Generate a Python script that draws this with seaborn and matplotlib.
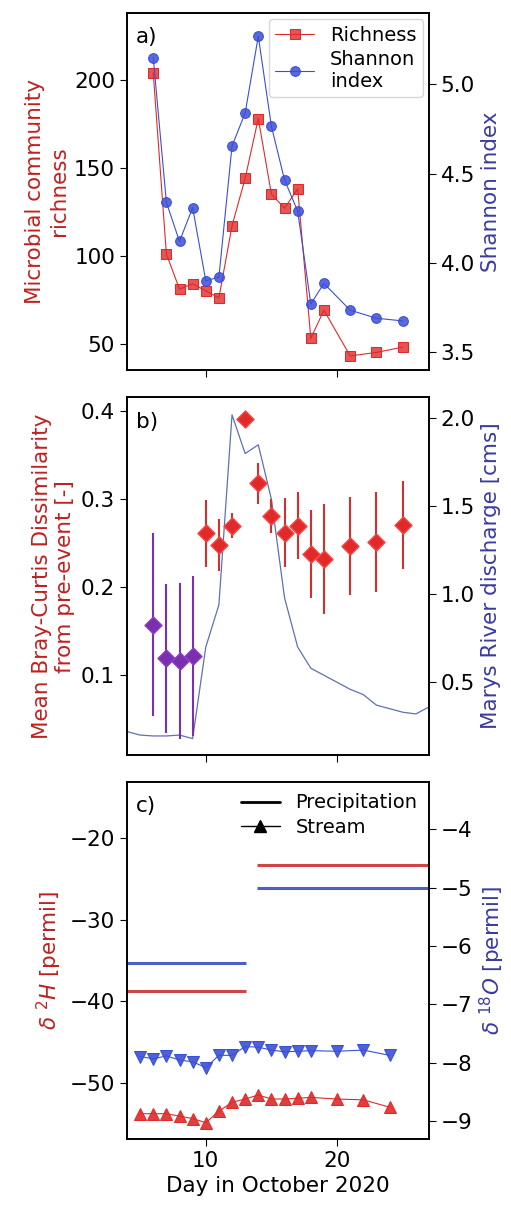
import numpy as np
import pandas as pd
import matplotlib
matplotlib.use("Agg")
import matplotlib.pyplot as plt
import seaborn as sns
from matplotlib.lines import Line2D

sns.set_style("ticks", {"axes.edgecolor": "black", "xtick.color": "black",
                        "ytick.color": "black", "text.color": "black",
                        "axes.labelcolor": "black"})
plt.rcParams['font.family'] = ['DejaVu Sans']

# ---------------- data ----------------
# panel a
seq_days = [6, 7, 8, 9, 10, 11, 12, 13, 14, 15, 16, 17, 18, 19, 21, 23, 25]
richness = [204, 101, 81, 84, 80, 76, 117, 144, 178, 135, 127, 138, 53, 69, 43, 45, 48]
shannon = [5.15, 4.34, 4.12, 4.31, 3.90, 3.92, 4.655, 4.84, 5.27, 4.765, 4.465, 4.29,
           3.77, 3.885, 3.735, 3.69, 3.675]

# panel b
pre_days = [6, 7, 8, 9]
pre_bc = [0.157, 0.119, 0.116, 0.122]
pre_err = [0.104, 0.085, 0.089, 0.091]
post_days = [10, 11, 12, 13, 14, 15, 16, 17, 18, 19, 21, 23, 25]
post_bc = [0.261, 0.248, 0.270, 0.391, 0.318, 0.281, 0.262, 0.270, 0.238, 0.232, 0.247, 0.251, 0.271]
post_err = [0.038, 0.030, 0.014, 0.0, 0.023, 0.019, 0.039, 0.038, 0.050, 0.063, 0.056, 0.057, 0.050]
q_days = list(range(4, 28))
discharge = [0.22, 0.20, 0.195, 0.195, 0.20, 0.18, 0.70, 0.94, 2.02, 1.80, 1.85, 1.54,
             0.98, 0.70, 0.58, 0.54, 0.50, 0.46, 0.43, 0.37, 0.35, 0.33, 0.32, 0.36]

# panel c
iso_days = [5, 6, 7, 8, 9, 10, 11, 12, 13, 14, 15, 16, 17, 18, 20, 22, 24]
d2h_stream = [-53.8, -53.8, -53.8, -54.1, -54.4, -54.9, -53.5, -52.4, -52.0, -51.5, -52.0,
              -52.0, -51.9, -51.8, -52.0, -52.1, -53.0]
d18o_stream = [-7.89, -7.93, -7.88, -7.95, -7.98, -8.08, -7.87, -7.87, -7.72, -7.73, -7.78,
               -7.81, -7.80, -7.79, -7.80, -7.78, -7.87]
precip_start = [4.0, 13.9]
precip_end = [13.1, 27.0]
d2h_precip = [-38.7, -23.3]
d18o_precip = [-6.29, -5.0]

# ---------------- styling ----------------
RED = "#e02a2a"
RED_LBL = "#c02020"
BLUE = "#3a4fd6"
BLUE_LBL = "#3a3aa0"
PURPLE = "#7a2fb0"
QLINE = "#6070b0"
FS = 15.5
LFS = 14

fig = plt.figure(figsize=(5.11, 12.06), dpi=100)
L, R = 0.2485, 0.8395
axa = fig.add_axes([L, 0.6932, R - L, 0.9892 - 0.6932])
axb = fig.add_axes([L, 0.3740, R - L, 0.6706 - 0.3740])
axc = fig.add_axes([L, 0.0556, R - L, 0.3518 - 0.0556])

# ---- panel a ----
axa2 = axa.twinx()
sns.lineplot(x=seq_days, y=richness, ax=axa, color=RED, lw=0.8, marker='s', markersize=7,
             markerfacecolor=(0.88, 0.16, 0.16, 0.8), markeredgecolor=RED, label="Richness",
             legend=False)
sns.lineplot(x=seq_days, y=shannon, ax=axa2, color=BLUE, lw=0.8, marker='o', markersize=7,
             markerfacecolor=(0.23, 0.31, 0.84, 0.85), markeredgecolor=BLUE,
             label="Shannon\nindex", legend=False)
axa.set_ylim(35, 238)
axa2.set_ylim(3.40, 5.40)
axa.set_yticks([50, 100, 150, 200])
axa2.set_yticks([3.5, 4.0, 4.5, 5.0])
axa.set_ylabel("Microbial community\nrichness", color=RED_LBL, fontsize=FS)
axa2.set_ylabel("Shannon index", color=BLUE_LBL, fontsize=FS)
h1, l1 = axa.get_legend_handles_labels()
h2, l2 = axa2.get_legend_handles_labels()
axa2.legend(h1 + h2, l1 + l2, loc="upper right", fontsize=LFS, handlelength=2.0,
            borderpad=0.35, labelspacing=0.25, handletextpad=0.8, borderaxespad=0.3)
axa.text(0.03, 0.96, "a)", transform=axa.transAxes, fontsize=FS, va="top")

# ---- panel b ----
axb2 = axb.twinx()
sns.lineplot(x=q_days, y=discharge, ax=axb2, color=QLINE, lw=0.9)
axb.errorbar(pre_days, pre_bc, yerr=pre_err, fmt='none', ecolor=PURPLE, elinewidth=1.5)
axb.errorbar(post_days, post_bc, yerr=post_err, fmt='none', ecolor="#d03030", elinewidth=1.5)
sns.scatterplot(x=pre_days, y=pre_bc, ax=axb, marker='D', s=75, color=PURPLE,
                edgecolor="#8a3fc0", linewidth=1, zorder=5)
sns.scatterplot(x=post_days, y=post_bc, ax=axb, marker='D', s=75, color=RED,
                edgecolor="#ff4040", linewidth=1, zorder=5)
axb.set_zorder(axb2.get_zorder() + 1)
axb.patch.set_visible(False)
axb.set_ylim(0.009, 0.416)
axb2.set_ylim(0.087, 2.12)
axb.set_yticks([0.1, 0.2, 0.3, 0.4])
axb2.set_yticks([0.5, 1.0, 1.5, 2.0])
axb.set_ylabel("Mean Bray-Curtis Dissimilarity\nfrom pre-event [-]", color=RED_LBL, fontsize=FS)
axb2.set_ylabel("Marys River discharge [cms]", color=BLUE_LBL, fontsize=FS)
axb.text(0.03, 0.96, "b)", transform=axb.transAxes, fontsize=FS, va="top")

# ---- panel c ----
axc2 = axc.twinx()
axc.hlines(d2h_precip, precip_start, precip_end, color="#d04545", lw=2.2)
axc2.hlines(d18o_precip, precip_start, precip_end, color="#4a5fc8", lw=2.2)
sns.lineplot(x=iso_days, y=d2h_stream, ax=axc, color=RED, lw=0.8, marker='^', markersize=8,
             markerfacecolor=(0.88, 0.16, 0.16, 0.9), markeredgecolor=RED)
sns.lineplot(x=iso_days, y=d18o_stream, ax=axc2, color=BLUE, lw=0.8, marker='v', markersize=8,
             markerfacecolor=(0.23, 0.31, 0.84, 0.9), markeredgecolor=BLUE)
axc.set_ylim(-56.9, -13.05)
axc2.set_ylim(-9.30, -3.19)
axc.set_yticks([-50, -40, -30, -20])
axc2.set_yticks([-9, -8, -7, -6, -5, -4])
axc.set_ylabel(r"$\delta\ ^{2}H$ [permil]", color=RED_LBL, fontsize=FS)
axc2.set_ylabel(r"$\delta\ ^{18}O$ [permil]", color=BLUE_LBL, fontsize=FS)
axc.set_xlabel("Day in October 2020", fontsize=FS)
leg_handles = [Line2D([], [], color='black', lw=2),
               Line2D([], [], color='black', lw=1, marker='^', markersize=9)]
axc.legend(leg_handles, ["Precipitation", "Stream"], loc="upper right", frameon=False,
           fontsize=LFS, handlelength=2.0, labelspacing=0.3, borderaxespad=0.2)
axc.text(0.03, 0.96, "c)", transform=axc.transAxes, fontsize=FS, va="top")

for ax in (axa, axb, axc):
    ax.set_xlim(4, 27)
    ax.set_xticks([10, 20])
for ax in (axa, axb):
    ax.set_xticklabels([])
for ax in (axa, axa2, axb, axb2, axc, axc2):
    ax.tick_params(labelsize=FS, length=5, colors="black")
    for s in ax.spines.values():
        s.set_linewidth(1.2)
        s.set_edgecolor("black")
        s.set_visible(True)
axa.set_xlabel("")
axb.set_xlabel("")

fig.savefig("out.png", dpi=100)
